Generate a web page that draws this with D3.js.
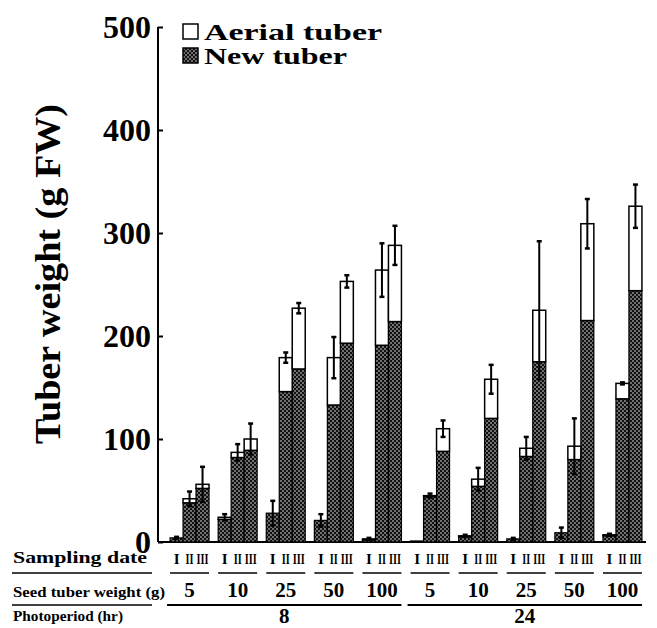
<!DOCTYPE html>
<html>
<head>
<meta charset="utf-8">
<script src="https://cdn.jsdelivr.net/npm/d3@7"></script>
<style>
  body { margin: 0; background: #fff; }
  svg text { font-family: "Liberation Serif", "DejaVu Serif", serif; font-weight: bold; fill: #000; }
</style>
</head>
<body>
<div id="chart"></div>
<script>
// Data
const photoperiods = ['8', '24'];
const seedWeights = ['5', '10', '25', '50', '100'];
const samplingDates = ['I', 'II', 'III'];
const yTicks = [0, 100, 200, 300, 400, 500];

// per group (photoperiod x seed weight), values for I, II, III
const newTuber = [
  [4, 38, 52], [22, 82, 89], [28, 146, 168], [21, 133, 193], [2, 191, 214],
  [1, 44, 88], [5, 54, 120], [3, 83, 175], [9, 80, 215], [6, 139, 244]
];
const aerialTuber = [
  [0, 4, 4], [2, 5, 11], [0, 33, 59], [0, 46, 60], [1, 73, 74],
  [0, 1, 22], [1, 7, 38], [0, 8, 50], [0, 13, 94], [1, 15, 82]
];
const errors = [
  [1, 7, 17], [3, 8, 15], [12, 5, 5], [6, 20, 6], [1, 26, 19],
  [0, 2, 8], [1, 11, 14], [1, 11, 67], [5, 27, 24], [1, 1, 21]
];

// build flat table
const groups = [];
photoperiods.forEach(p => seedWeights.forEach(w => groups.push({ key: p + '-' + w, period: p, weight: w })));
const bars = [];
groups.forEach((g, gi) => samplingDates.forEach((d, di) => {
  bars.push({
    group: g.key, date: d,
    newT: newTuber[gi][di],
    aerial: aerialTuber[gi][di],
    err: errors[gi][di]
  });
}));

const width = 657, height = 628;
const svg = d3.select('#chart').append('svg')
  .attr('width', width).attr('height', height);

// stipple pattern for new tuber
const defs = svg.append('defs');
const pat = defs.append('pattern').attr('id', 'stipple')
  .attr('patternUnits', 'userSpaceOnUse').attr('width', 4).attr('height', 4);
pat.append('rect').attr('width', 4).attr('height', 4).attr('fill', '#111');
pat.append('circle').attr('cx', 1).attr('cy', 1).attr('r', 0.75).attr('fill', '#fff');
pat.append('circle').attr('cx', 3).attr('cy', 3).attr('r', 0.75).attr('fill', '#fff');

const axisX = 158;
const yScale = d3.scaleLinear().domain([0, 500]).range([542, 27]);
const xGroup = d3.scaleBand().domain(groups.map(g => g.key))
  .range([165.5, 646.5]).paddingInner(0.19).paddingOuter(0.095);
const xDate = d3.scaleBand().domain(samplingDates).range([0, xGroup.bandwidth()]);

// y axis
const yAxis = d3.axisLeft(yScale).tickValues(yTicks).tickSize(-5).tickPadding(7);
const yAxisG = svg.append('g').attr('transform', `translate(${axisX},0)`).call(yAxis);
yAxisG.select('.domain').attr('stroke', '#000').attr('stroke-width', 2)
  .attr('d', `M0,${yScale(500)}V${yScale(0)}`);
yAxisG.selectAll('.tick line').attr('stroke', '#000').attr('stroke-width', 2);
yAxisG.selectAll('.tick text')
  .style('font-size', '32px').style('font-family', '"Liberation Serif", serif')
  .style('font-weight', 'bold').attr('fill', '#000');

// baseline
svg.append('line')
  .attr('x1', axisX).attr('x2', 646).attr('y1', yScale(0)).attr('y2', yScale(0))
  .attr('stroke', '#000').attr('stroke-width', 2);

// y title
svg.append('text')
  .attr('transform', `translate(60,${(103 + 445) / 2}) rotate(-90)`)
  .attr('text-anchor', 'middle')
  .attr('textLength', 340).attr('lengthAdjust', 'spacingAndGlyphs')
  .style('font-size', '36px')
  .text('Tuber  weight (g FW)');

// bars
const barG = svg.append('g');
const bx = d => xGroup(d.group) + xDate(d.date);
barG.selectAll('.new').data(bars).enter().append('rect').attr('class', 'new')
  .attr('x', bx).attr('width', xDate.bandwidth())
  .attr('y', d => yScale(d.newT)).attr('height', d => yScale(0) - yScale(d.newT))
  .attr('fill', 'url(#stipple)').attr('stroke', '#000').attr('stroke-width', 1.2);
barG.selectAll('.aerial').data(bars.filter(d => d.aerial > 0)).enter().append('rect').attr('class', 'aerial')
  .attr('x', bx).attr('width', xDate.bandwidth())
  .attr('y', d => yScale(d.newT + d.aerial)).attr('height', d => yScale(d.newT) - yScale(d.newT + d.aerial))
  .attr('fill', '#fff').attr('stroke', '#000').attr('stroke-width', 1.5);

// error bars
const errG = barG.selectAll('.err').data(bars.filter(d => d.err > 0)).enter().append('g').attr('class', 'err')
  .attr('transform', d => `translate(${bx(d) + xDate.bandwidth() / 2},0)`);
errG.append('line')
  .attr('y1', d => yScale(d.newT + d.aerial + d.err))
  .attr('y2', d => yScale(Math.max(0, d.newT + d.aerial - d.err)))
  .attr('stroke', '#000').attr('stroke-width', 2);
errG.append('line').attr('x1', -2.5).attr('x2', 2.5)
  .attr('y1', d => yScale(d.newT + d.aerial + d.err)).attr('y2', d => yScale(d.newT + d.aerial + d.err))
  .attr('stroke', '#000').attr('stroke-width', 2.5);
errG.append('line').attr('x1', -2.5).attr('x2', 2.5)
  .attr('y1', d => yScale(Math.max(0, d.newT + d.aerial - d.err)))
  .attr('y2', d => yScale(Math.max(0, d.newT + d.aerial - d.err)))
  .attr('stroke', '#000').attr('stroke-width', 2.5);

// legend
const legend = [{ label: 'Aerial tuber', fill: '#fff', len: 178 }, { label: 'New tuber', fill: 'url(#stipple)', len: 143 }];
const lg = svg.selectAll('.legend').data(legend).enter().append('g')
  .attr('transform', (d, i) => `translate(183,${24 + i * 24})`);
lg.append('rect').attr('width', 15).attr('height', 15)
  .attr('fill', d => d.fill).attr('stroke', '#000').attr('stroke-width', 1.5);
lg.append('text').attr('x', 21).attr('y', 16)
  .attr('textLength', d => d.len).attr('lengthAdjust', 'spacingAndGlyphs')
  .style('font-size', '23px').text(d => d.label);

// bottom rows
const rowLabels = [
  { t: 'Sampling date', y: 563, size: 17, len: 134 },
  { t: 'Seed tuber weight (g)', y: 597, size: 15, len: 152 },
  { t: 'Photoperiod (hr)', y: 621, size: 14, len: 110 }
];
svg.selectAll('.rowlab').data(rowLabels).enter().append('text')
  .attr('x', 13).attr('y', d => d.y)
  .attr('textLength', d => d.len).attr('lengthAdjust', 'spacingAndGlyphs')
  .style('font-size', d => d.size + 'px').text(d => d.t);
[573, 605].forEach(y => svg.append('line').attr('x1', 12).attr('x2', 152)
  .attr('y1', y).attr('y2', y).attr('stroke', '#000').attr('stroke-width', 1.5));

// sampling date numerals
const numeralLen = { I: null, II: 8, III: 12 };
svg.selectAll('.date').data(bars).enter().append('text')
  .attr('x', d => bx(d) + xDate.bandwidth() / 2).attr('y', 564)
  .attr('text-anchor', 'middle')
  .attr('textLength', d => numeralLen[d.date])
  .attr('lengthAdjust', 'spacingAndGlyphs')
  .style('font-size', '15px').text(d => d.date);

// seed weight group underlines and labels
svg.selectAll('.gline').data(groups).enter().append('line')
  .attr('x1', d => xGroup(d.key)).attr('x2', d => xGroup(d.key) + xGroup.bandwidth())
  .attr('y1', 573).attr('y2', 573).attr('stroke', '#000').attr('stroke-width', 1.5);
svg.selectAll('.glab').data(groups).enter().append('text')
  .attr('x', d => xGroup(d.key) + xGroup.bandwidth() / 2).attr('y', 597)
  .attr('text-anchor', 'middle').style('font-size', '21px').text(d => d.weight);

// photoperiod lines and labels
photoperiods.forEach(p => {
  const gs = groups.filter(g => g.period === p);
  const x0 = xGroup(gs[0].key) - 3;
  const x1 = xGroup(gs[gs.length - 1].key) + xGroup.bandwidth();
  svg.append('line').attr('x1', x0).attr('x2', x1).attr('y1', 605).attr('y2', 605)
    .attr('stroke', '#000').attr('stroke-width', 2);
  svg.append('text').attr('x', (x0 + x1) / 2).attr('y', 623)
    .attr('text-anchor', 'middle').style('font-size', '21px').text(p);
});
</script>
</body>
</html>
